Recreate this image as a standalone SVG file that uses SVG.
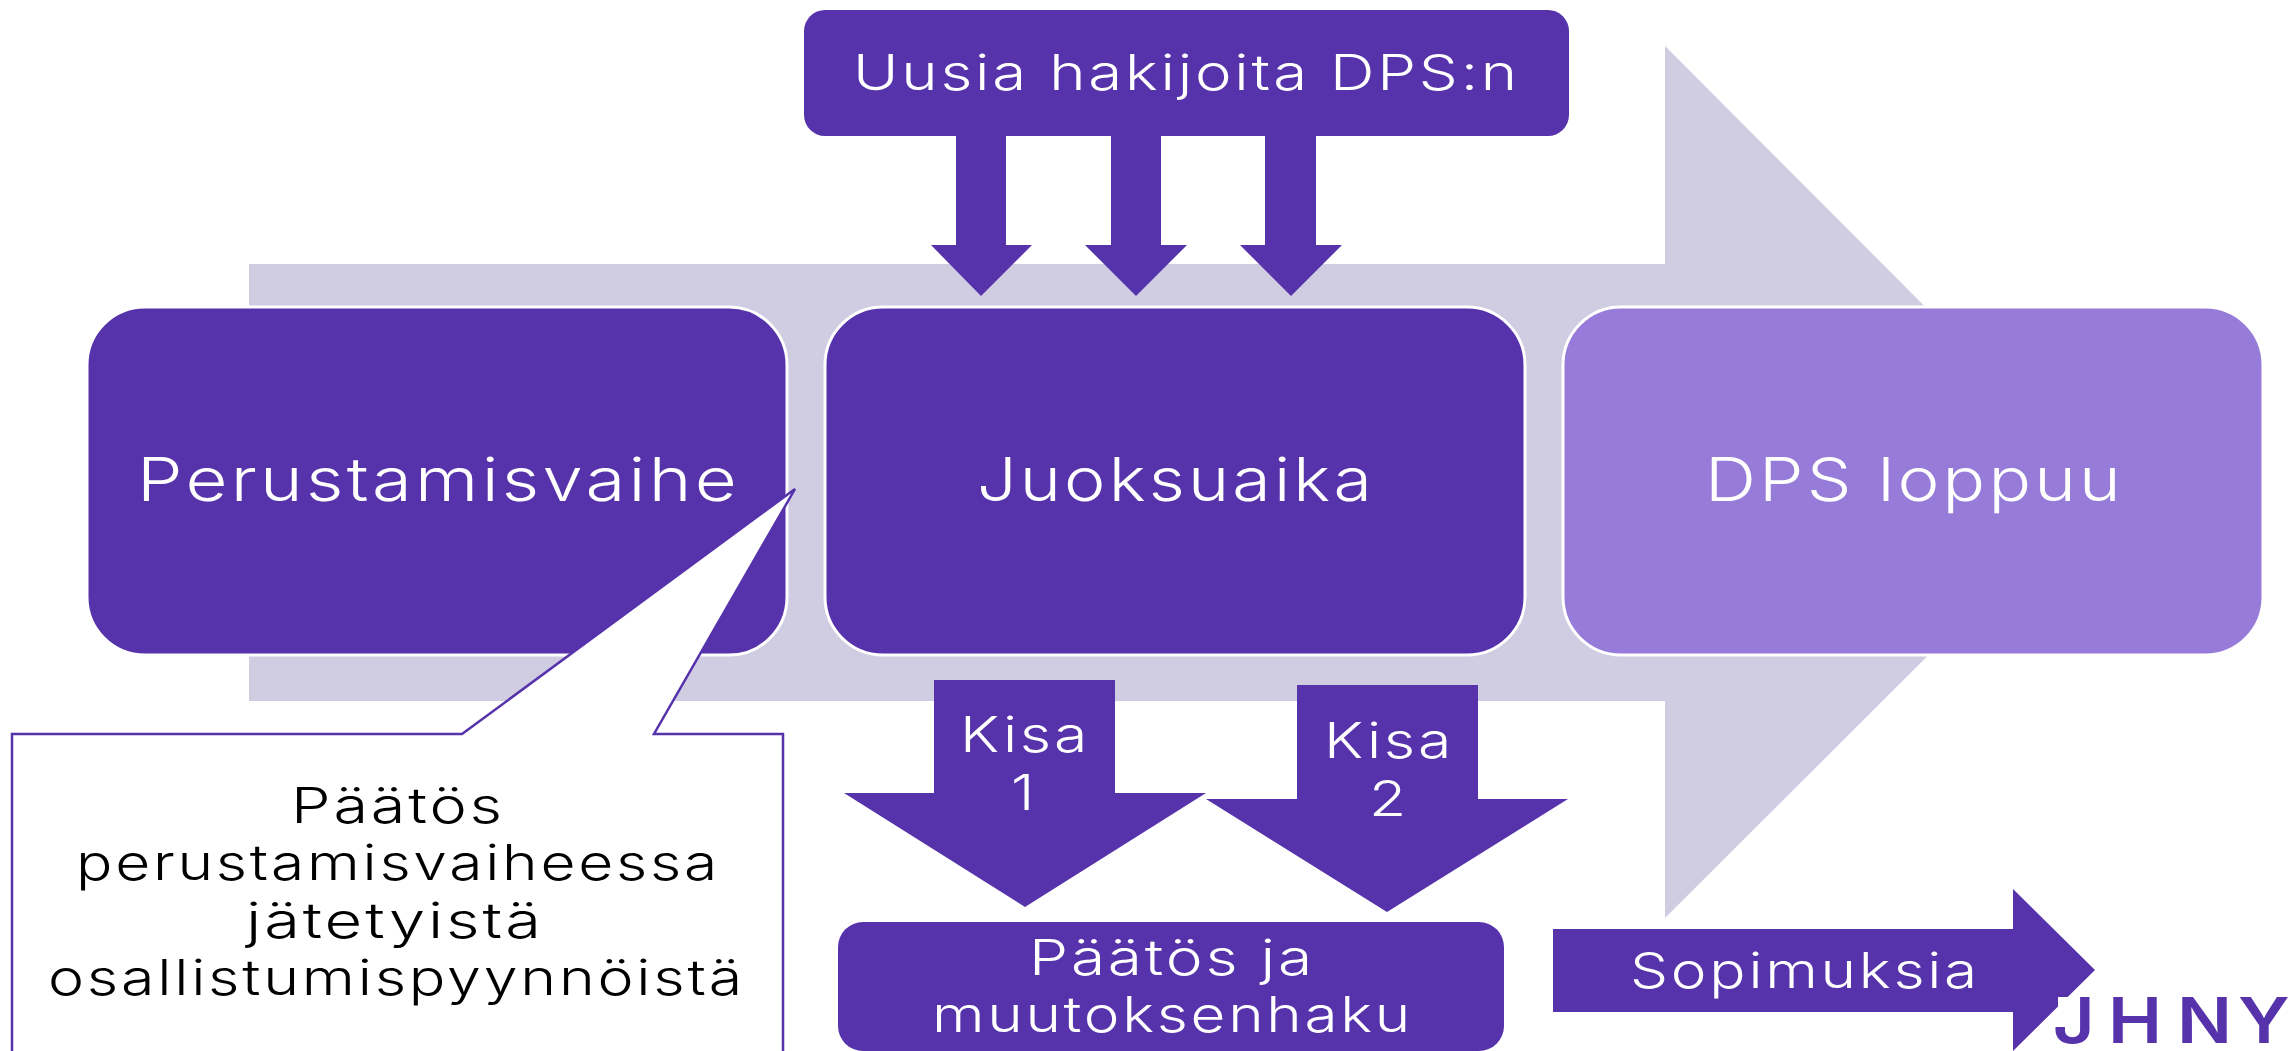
<svg xmlns="http://www.w3.org/2000/svg" width="2295" height="1051" viewBox="0 0 2295 1051">
<style>
.p{fill:#5633ab}
.t{font-family:"Inter","Liberation Sans",sans-serif;font-weight:300;fill:#fff;letter-spacing:.045em}
.b{fill:#5633ab;stroke:#fff;stroke-width:3}
.l{font-size:60px}
.m{font-size:49px}
</style>
<rect width="2295" height="1051" fill="#fff"/>
<g id="connectors">
<polygon id="timeline" fill="#d0cde3" points="249,264 1665,264 1665,46 2101,483 1665,918 1665,701 249,701"/>
<polygon class="p" points="956,136 1006,136 1006,245 1032,245 981,296 931,245 956,245"/>
<polygon class="p" points="1111,136 1161,136 1161,245 1187,245 1136,296 1085,245 1111,245"/>
<polygon class="p" points="1265,136 1316,136 1316,245 1342,245 1291,296 1240,245 1265,245"/>
</g>
<g id="node-perustamisvaihe">
<rect class="b" x="87" y="307" width="700" height="348" rx="58"/>
<text class="t l" x="137" y="501" textLength="603" lengthAdjust="spacingAndGlyphs">Perustamisvaihe</text>
</g>
<g id="node-juoksuaika">
<rect class="b" x="825" y="307" width="700" height="348" rx="58"/>
<text class="t l" x="977" y="501" textLength="398" lengthAdjust="spacingAndGlyphs">Juoksuaika</text>
</g>
<g id="node-dps-loppuu">
<rect x="1563" y="307" width="700" height="348" rx="58" fill="#967bd8" stroke="#fff" stroke-width="3"/>
<text class="t l" x="1705" y="501" textLength="419" lengthAdjust="spacingAndGlyphs">DPS loppuu</text>
</g>
<g id="node-uusia">
<rect class="p" x="804" y="10" width="765" height="126" rx="21"/>
<text class="t m" x="853" y="90" textLength="667" lengthAdjust="spacingAndGlyphs">Uusia hakijoita DPS:n</text>
</g>
<g id="node-kisa1">
<polygon class="p" points="934,680 1115,680 1115,793 1206,793 1025,907 844,793 934,793"/>
<text class="t m" x="960" y="752" textLength="130" lengthAdjust="spacingAndGlyphs">Kisa</text>
<text class="t m" x="1011" y="810" textLength="26" lengthAdjust="spacingAndGlyphs">1</text>
</g>
<g id="node-kisa2">
<polygon class="p" points="1297,685 1478,685 1478,799 1568,799 1387,912 1206,799 1297,799"/>
<text class="t m" x="1324" y="758" textLength="130" lengthAdjust="spacingAndGlyphs">Kisa</text>
<text class="t m" x="1369" y="816" textLength="40" lengthAdjust="spacingAndGlyphs">2</text>
</g>
<g id="node-paatos">
<rect class="p" x="838" y="922" width="666" height="129" rx="25"/>
<text class="t m" x="1029" y="975" textLength="286" lengthAdjust="spacingAndGlyphs">Päätös ja</text>
<text class="t m" x="932" y="1032" textLength="481" lengthAdjust="spacingAndGlyphs">muutoksenhaku</text>
</g>
<g id="node-sopimuksia">
<polygon class="p" points="1553,929 2013,929 2013,889 2095,970 2013,1051 2013,1012 1553,1012"/>
<text class="t m" x="1630" y="988" textLength="350" lengthAdjust="spacingAndGlyphs">Sopimuksia</text>
</g>
<g id="node-callout">
<polygon fill="#fff" stroke="#5633ab" stroke-width="2.5" points="12,734 462,734 795,489 654,734 783,734 783,1060 12,1060"/>
<g class="t m" style="fill:#000">
<text x="291" y="823" textLength="214" lengthAdjust="spacingAndGlyphs">Päätös</text>
<text x="76" y="880" textLength="644" lengthAdjust="spacingAndGlyphs">perustamisvaiheessa</text>
<text x="246" y="938" textLength="298" lengthAdjust="spacingAndGlyphs">jätetyistä</text>
<text x="48" y="995" textLength="697" lengthAdjust="spacingAndGlyphs">osallistumispyynnöistä</text>
</g>
</g>
<g id="logo">
<rect x="2058" y="997" width="10" height="10" fill="#fff"/>
<text transform="scale(1.15 1)" x="1785 1833 1893 1946" y="1043" font-family="Inter,'Liberation Sans',sans-serif" font-weight="600" font-size="63" fill="#5633ab">JHNY</text>
</g>
</svg>
